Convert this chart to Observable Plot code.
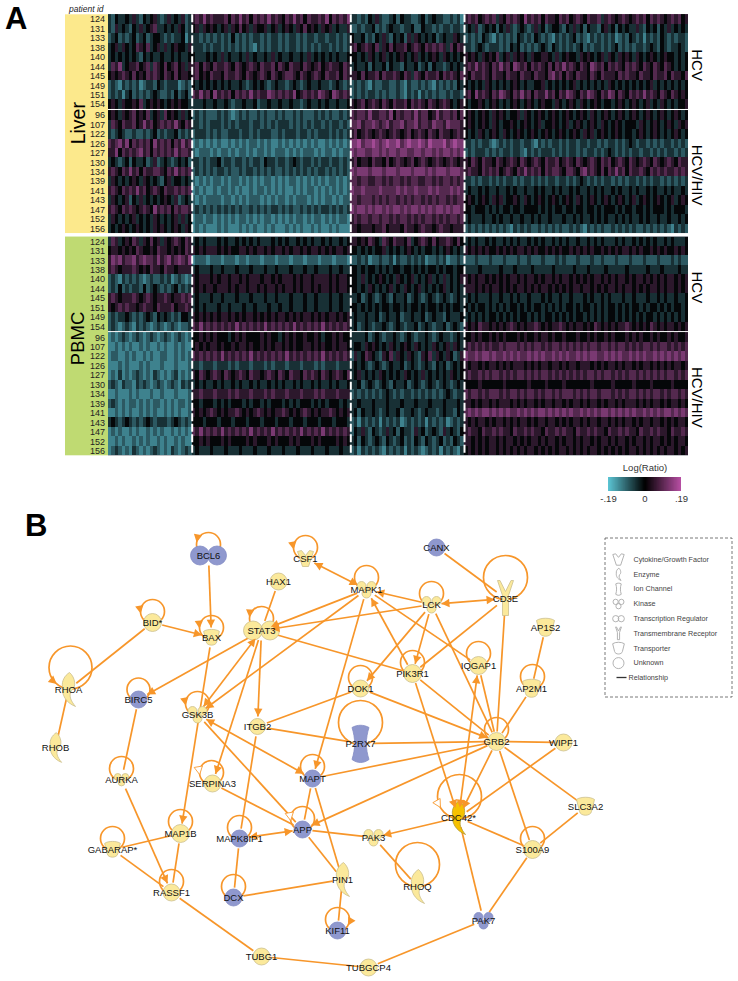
<!DOCTYPE html>
<html><head><meta charset="utf-8">
<script src="https://cdn.jsdelivr.net/npm/d3@7"></script>
<script src="https://cdn.jsdelivr.net/npm/@observablehq/plot@0.6"></script>
<style>
body{margin:0;background:#fff;font-family:"Liberation Sans",Arial,sans-serif}
#page{position:relative;width:738px;height:981px;overflow:hidden}
.panel{position:absolute;font-weight:bold;font-size:31px;line-height:31px;color:#000}
.pid{position:absolute;left:69px;top:4px;font-style:italic;font-size:8.5px;color:#222}
</style></head><body><div id="page"></div>
<script>
// ---- Panel A: patients per group
const idsHCV = [124,131,133,138,140,144,145,149,151,154];
const idsHIV = [96,107,122,126,127,130,134,139,141,143,147,152,156];
const idsPbmcHCV = [124,131,133,138,140,144,145,151,149,154];
// levels 0..8 : 0 = -.19, 4 = 0, 8 = +.19 ; one string per patient, four gene clusters
const liverHCV = [
"324334353243453235343523 56575655564657564656575654657564655657465657 33232435322342433223423433223231 5656456563546565475656465546564565465563565456545656465654565645",
"325343243534563343435423 45354543453546453544534534543546454354534335 22323342323433233422433232332332 3435234342435323432353423443243534243324534243433532434243534343",
"234232342342344323233413 33232323232423232332323323233232332332332323 43342324353243425354343423433543 2323243213232324323243232132323423213232323123243231323243232332",
"345354346546345353454435 33323233232323232132323323233232323233232323 56456546354645564565465656536465 3323432333232434232323432432323234232332323423232332343243233432",
"343434343243433433434334 43334343534334353433435343343343534343434334 44343543453434543453434543543434 5454354546345354543544554353454435454345354354543543454345443434",
"365734556456365464564535 56465465565465456546556465465546545645655465 34334243342433243342342433234343 5657565465756476564656546465756546547656465654656546546546543434",
"454565464546565465464554 56454655465565465456546545665465456546556465 55464556465565465365465564656546 5465565465546554655465546756465465546546555465655465546556465546",
"232132323123324323331232 43434343434334323434323433234323433433234323 23232132233223213223232132323243 4343435434343454343344534343434534343434354343434343453434343434",
"232313423232343223242342 65756475656465657565576565657456565765476565 23232332323223213231323232232332 5647565465765465756465575646576546576546576465465657565465465454",
"454354454634545434545443 33343343343233433423343343343323433434334334 54564565465465564656546545654345 4344543454343454345434544354345435434543443454345434534354343445"];
const liverHIV = [
"454354564546345364543534 23232223232123232232322323223232223232322323 65665755665746566575664575665646 4543454354543445354345434543454345435434543454345434543454345434",
"365465564575645656575465 33232333232323332332323233323232323323233232 66756676567566756675665766576665 4543454354344543454345344543453454345435434543444354345434543545",
"323432232232342323342323 23332323223332332323332232333233232333232323 56456545654565456456546546554565 4343543454354345434543454345434543545345434543443454345434345434",
"656757465656475656465756 12121212112121212212121121212121212112121212 77867787678778678778768777867877 3323233212323233233213232332323323323323233232343233232323323232",
"557465656756465656575665 21222121221212212122121222121212221212212122 76776677676776776677677676776767 2323332323233233213232333232323323233232343232323323323232332323",
"343234243342352343234342 33232334233233232332433233234323323233233232 56455465546456545645654565456545 5465465546545654654565465564565465456546564565465456546545654655",
"565465756465566546575656 23232323323223233232323223232323232332323232 76777677767776777677767677767776 5655465656456546575656465665466546756546465756465565465656556565",
"354343454354343245344343 21212122121221212121221212122121212121221212 66566556656566565665566565665656 3323233232323323233232323323323234323232332323233232323323232323",
"565465657564565465565656 12121121221212112122121212112121221212121212 76676666766667676676667676667676 3433434334334343343343433434334343343434334343343433434334343343",
"354345243534343454352343 21212222122121212221212122121222121212212122 66566656565665656566565656656566 4543454354534454354345434543454354345434543454345345434543453454",
"565465654565475656465665 23232323232323223232323323232232323233232323 76776767767677676776767677676776 4434443434344344344443434344344344344343444343443443434443434443",
"354343453434354343453534 12212212121212212121221212121221212212121221 56566566566565665656566565656656 3433343343433433433434334333433434334343433434343343433433433434",
"343454345434354543454354 12121112121112121211212111212121121211212111 55455545564555465545655456554555 2323232323232132323223232323223232132323223232323223232323213232"];
const pbmcHCV = [
"365345465354645354565465 34343334343343434343334343433434343343433434 55454654365465546345654645565464 3434334343343434334343433434343343343434333434334343434334343334",
"455454546544546554545465 54545554545445545455454554545545455454545545 44343434453434345434344343454343 5454545445454545545454454545445454545445454545545454454545445454",
"576756675676657567567657 12221222122212212221222122212221222122212221 22323122322313223232312232312232 2223222322232223223222322232322232223223222322232223222322232322",
"565455565454655465545555 34333433433343334333433433343334334333433433 44343443434344344343434434344344 3333433333433343333433333433333433343333433333433333433343333433",
"232132323212322323123212 54555454554554545554554545554545545555454554 44353434543435434534345343534345 5454554545454554545545455454554545454554545455454554545454554545",
"232423233242343232342323 54545545554545545545455454554545545455454554 44343543434534354345343434534343 5554545455454545545454554545454554554545455454554545455454554545",
"565455565456545565455656 34333433433343334333433433343334334333433433 33423432343243342343234323432343 3434333433433434334333434334334333434334343334334333433434334334",
"545656554565546555645565 34343334334333433433343343343334334333433433 44343434344344343443434434343443 4343443434343443434344343434344343443434344343434434344343434434",
"232334323234324343232443 54545454554545455454545455454545545454554545 34334334234334233433423433243334 3434343443434343443434344343434344343434344343434343443434343434",
"232123213232123212321223 65756565656575656565756565657565656575656565 34234323343234323342343233423432 5454655454545654545565454556545455454654545455654545465454554545"];
const pbmcHIV = [
"121232123212321232123212 44545454443454544445454434545445445434454544 33334234323343234323343234332343 4454544545454445454454554544544454454544545444545454454544545445",
"112121211212112121121211 45454554544545545445454554545445545454454554 34435454343543454354343543453543 5656565655656665656566565665656565656656656566565656656566565656",
"122112121121211221121212 65656565756565657565656565756565656575656565 25346543254635435432546354354235 7667677676676767667676766767676676767766767676676767667676767676",
"111212111212111211121112 33233323332323332333232333233323332323332333 34343234323433423432343243423434 5455454554545455545454554554545545554545455454554545545454545545",
"121312123212132121231212 54654565465456546554565465465546565465456546 34534343543434354343534343435434 5655656566565656656565665656565656566565665656566565656565665656",
"232132213232123212321323 34343343433434334343343434334343343433434334 33423432343243342343234323432343 4444544444454444445444454444544444445444445444445444454444454444",
"112111212111211211121112 55655565556565556555656555655565556565556555 23232323234323233232323232343233 6566565666565665656656566565666565656656665656566565656656566565",
"232121221212122121212212 44344434343444343443434443434344434343444343 33433343334333433343334333433343 5545455454555454545545455455454554545545455454555454545545455454",
"112121211212121121212112 54545654545565454565454556545456545455654545 34243343234334233432343323433243 6767677676767667676767767676767667676767767676767667676767767676",
"343234323234323332343232 44434443444344434443444344434443444344434443 23132323132323123232313232312323 5454554545545454554545545545454554545545545454554545545545454554",
"121211212112121211212121 65756565756565657565657565656575656575656565 24353243235342433253423432534324 5655465565655465565655465565655465565655465565655465565655465565",
"112121121212112121121211 44545444545444454544454544454544454544445454 34243234324323423243243234232432 5545454554545545454554545545455454554545545455454554545545454554",
"123212132121232121321232 34333433343334333433343334333433343334333433 23132323213232313232123231323213 4545454554545454545545454545545454545545454545455454545454554545"];
const groups = [
  {tissue:"Liver", cond:"HCV", ids:idsHCV, rows:liverHCV},
  {tissue:"Liver", cond:"HCV/HIV", ids:idsHIV, rows:liverHIV},
  {tissue:"PBMC", cond:"HCV", ids:idsPbmcHCV, rows:pbmcHCV},
  {tissue:"PBMC", cond:"HCV/HIV", ids:idsHIV, rows:pbmcHIV}];
const clusterEdges = [0,83.7,242.3,356,580];
const groupGaps = [0.14,0.37,0.14,0];
const teal="#5bc4d3", magenta="#bb50a6";

let pos=0; const rowData=[], cells=[];
groups.forEach((g,gi)=>{
  g.start=pos;
  g.ids.forEach((id,j)=>{
    const row={id,pos};rowData.push(row);
    g.rows[j].split(" ").forEach((seg,b)=>{
      const a=clusterEdges[b],w=clusterEdges[b+1]-a;
      [...seg].forEach((c,i)=>cells.push({x1:a+i/seg.length*w,x2:a+(i+1)/seg.length*w,y1:pos,y2:pos+1,v:(+c-4)/4*.19}));
    });
    pos++;
  });
  g.end=pos; pos+=groupGaps[gi];
});
const total=pos;
const tissues=[
 {name:"Liver",fill:"#fce98c",y1:groups[0].start,y2:groups[1].end,dy:-1,fs:19.5},
 {name:"PBMC",fill:"#bfda72",y1:groups[2].start,y2:groups[3].end,dy:-8,fs:18.5}];

const heat=Plot.plot({
  width:738,height:510,margin:0,
  style:{position:"absolute",left:"0",top:"0",fontFamily:"'Liberation Sans',Arial,sans-serif",background:"transparent"},
  x:{domain:[0,580],range:[108,688],axis:null},
  y:{domain:[0,total],range:[14.3,455.3],axis:null},
  color:{type:"linear",domain:[-.19,0,.19],range:[teal,"#000",magenta],clamp:true},
  marks:[
    Plot.rect(tissues,{x1:()=>-43,x2:()=>0,y1:"y1",y2:"y2",fill:d=>d.fill}),
    Plot.rect(groups,{x1:()=>0,x2:()=>580,y1:"start",y2:"end",fill:()=>"#232c3a"}),
    Plot.rect(cells,{x1:"x1",x2:"x2",y1:"y1",y2:"y2",fill:"v",fillOpacity:.84,shapeRendering:"crispEdges"}),
    Plot.ruleX(clusterEdges.slice(1,4),{y1:0,y2:total,stroke:"#fff",strokeWidth:2,strokeDasharray:"8 2.5"}),
    Plot.text(rowData,{x:()=>0,y:d=>d.pos+.5,text:d=>String(d.id),textAnchor:"end",dx:-3.5,fontSize:9,fill:"#222"}),
    ...tissues.map(t=>Plot.text([t],{x:()=>-30,y:d=>(d.y1+d.y2)/2,text:"name",rotate:-90,fontSize:t.fs,dy:t.dy,fill:"#000"})),
    Plot.text(groups,{x:()=>588,y:d=>(d.start+d.end)/2,text:"cond",rotate:90,fontSize:15,dy:3,fill:"#000"})
  ]});

// legend of panel A
const ramp=d3.range(-.19,.19,.004);
const legendTicks=[-.19,0,.19];
const colorKey=Plot.plot({
  width:120,height:50,marginLeft:23,marginRight:24,marginTop:17,marginBottom:19,
  style:{position:"absolute",left:"585px",top:"460px",fontFamily:"'Liberation Sans',Arial,sans-serif",background:"transparent",fontSize:"9.5px",color:"#333"},
  x:{domain:[-.19,.19],ticks:legendTicks,tickSize:0,tickPadding:4,tickFormat:d=>d==0?"0":(d<0?"-.19":".19"),label:null},
  y:{axis:null,domain:[0,1]},
  color:{type:"linear",domain:[-.19,0,.19],range:[teal,"#000",magenta]},
  marks:[
    Plot.rect(ramp,{x1:d=>d,x2:d=>Math.min(.19,d+.008),y1:()=>0,y2:()=>1,fill:d=>d}),
    Plot.text(["Log(Ratio)"],{frameAnchor:"top",dy:-13,fontSize:9.5,fill:"#333"})
  ]});

// ---- Panel B: network (positions)
const nodes=[
["BCL6",208,555,"double","blue",8],["BID*",152,622,"circle","yellow",9],["BAX",211,637,"cup","yellow",7],
["HAX1",278,581,"circle","yellow",8.5],["STAT3",261,630,"double","yellow",8],["RHOA",68,689,"crescent","yellow",8],
["RHOB",55,747,"crescent","yellow",7],["BIRC5",138,699,"circle","blue",8.5],["GSK3B",197,714,"kinase","yellow",8],
["ITGB2",257,726,"circle","yellow",8],["CSF1",305,558,"cyto","yellow",8],["MAPK1",366,589,"kinase","yellow",8],
["LCK",431,604,"kinase","yellow",8],["CANX",436,547,"circle","blue",8.5],["CD3E",505,598,"recept","yellow",8],
["AP1S2",545,627,"cup","yellow",8],["IQGAP1",478,665,"circle","yellow",9],["AP2M1",531,688,"cup","yellow",8],
["PIK3R1",412,673,"circle","yellow",9],["DOK1",360,688,"circle","yellow",8.5],["P2RX7",360,743,"ion","blue",8],
["GRB2",496,741,"circle","yellow",9],["WIPF1",563,742,"circle","yellow",8.5],["SLC3A2",585,806,"cup","yellow",8],
["CDC42*",458,817,"crescent","gold",8],["S100A9",532,849,"circle","yellow",9],["PAK3",373,837,"kinase","yellow",8],
["RHOQ",417,886,"crescent","yellow",8],["PAK7",483,920,"kinase","blue",8],["TUBGCP4",368,967,"circle","yellow",8.5],
["AURKA",121,779,"kinase","yellow",6],["SERPINA3",212,783,"circle","yellow",8.5],["MAPT",312,778,"circle","blue",8.5],
["MAP1B",180,833,"circle","yellow",9],["MAPK8IP1",239,838,"circle","blue",8.5],["APP",302,829,"circle","blue",8.5],
["GABARAP*",112,849,"cup","yellow",7],["RASSF1",171,892,"circle","yellow",8.5],["DCX",233,897,"circle","blue",8.5],
["PIN1",342,879,"crescent","yellow",8],["KIF11",337,930,"circle","blue",8.5],["TUBG1",261,956,"circle","yellow",8.5]
].map(([name,x,y,shape,tone,r])=>({name,x,y,shape,tone,r}));
const byName=new Map(nodes.map(d=>[d.name,d]));
// from, to, arrowheads (0 none, 1 at "to", 2 both)
const edges=[
["BCL6","BAX",1],["BID*","BAX",1],["BID*","RHOA",0],["RHOA","RHOB",0],["HAX1","STAT3",0],["STAT3","BIRC5",1],
["GSK3B","STAT3",2],["MAPK1","GSK3B",1],["STAT3","ITGB2",1],["STAT3","SERPINA3",1],["BAX","MAP1B",1],["BIRC5","AURKA",0],
["AURKA","RASSF1",1],["GSK3B","APP",0],["MAPT","GSK3B",2],["ITGB2","DOK1",0],["ITGB2","P2RX7",0],["P2RX7","GRB2",0],
["MAPT","GRB2",0],["GRB2","APP",1],["ITGB2","MAPK8IP1",0],["MAPK1","STAT3",1],["LCK","STAT3",1],["MAPK1","MAPT",1],
["CSF1","MAPK1",2],["LCK","MAPK1",1],["LCK","CD3E",2],["CANX","CD3E",0],["CD3E","PIK3R1",0],["LCK","PIK3R1",1],
["PIK3R1","MAPK1",1],["MAPK1","IQGAP1",0],["LCK","DOK1",1],["LCK","GRB2",0],["CD3E","GRB2",0],["AP1S2","AP2M1",0],
["AP2M1","GRB2",0],["IQGAP1","GRB2",0],["IQGAP1","CDC42*",2],["PIK3R1","GRB2",0],["PIK3R1","CDC42*",1],["STAT3","PIK3R1",0],
["DOK1","GRB2",1],["GRB2","CDC42*",1],["GRB2","WIPF1",0],["GRB2","S100A9",0],["GRB2","SLC3A2",0],["WIPF1","CDC42*",0],
["CDC42*","S100A9",0],["CDC42*","PAK3",1],["CDC42*","PAK7",0],["S100A9","PAK7",0],["SLC3A2","S100A9",0],["PAK3","RHOQ",0],
["APP","PAK3",0],["MAPT","APP",0],["MAPT","PIN1",0],["APP","PIN1",0],["SERPINA3","APP",0],["MAPK8IP1","APP",2],
["GABARAP*","MAP1B",0],["GABARAP*","RASSF1",0],["MAP1B","RASSF1",0],["MAPK8IP1","DCX",0],["DCX","PIN1",0],["PIN1","KIF11",0],
["RASSF1","TUBG1",0],["TUBG1","TUBGCP4",0],["TUBGCP4","PAK7",0]];
// self-loops: centre x, centre y, radius, head angle (null none), head kind
const loops=[
[208,544,12,190,"s"],[152,611,12,170,"s"],[211,627,12,175,"s"],[261,618,12,185,"s"],[70,667,21.5,130,"s"],[138,689,11.5,null],
[197,703,12,170,"s"],[305,547,12,170,"s"],[366,577,12,null],[431,593,12,null],[505,577,22,null],[478,653,12,null],
[532,676,12,null],[412,662,12,null],[360,677,12,null],[360,722,22,null],[496,729,12,null],[459,796,22,150,"o"],
[532,838,12,null],[417,864,22,null],[121,768,12,null],[211,772,12,170,"o"],[312,766,12,null],[180,821,12,null],
[239,827,12,null],[302,818,12,170,"o"],[112,838,12,null],[171,881,12,null],[233,886,12,null],[337,919,12,30,"c"]
].map(([cx,cy,r,a,k])=>({cx,cy,r,a,k}));
const legendNames=["Cytokine/Growth Factor","Enzyme","Ion Channel","Kinase","Transcription Regulator","Transmembrane Receptor","Transporter","Unknown"];
const legendShapes=["cyto","crescent","ion","kinase","double","recept","cup","circle"];
const legendScale=[5.7,2.9,2.6,4.6,2.6,2.9,5.2,5.5];

const orange="#f7962a";
const toneFill={yellow:"#fbe99b",blue:"#8f98ce",gold:"#f6c100"};
const toneStroke={yellow:"#cbbf8e",blue:"#838cc4",gold:"#b49a30"};
const scaled=fn=>({draw(c,size){const s=Math.sqrt(size/Math.PI)/8;fn(c,s)}});
const symbols={
 circle:"circle",
 double:scaled((c,s)=>{for(const x of[-8.5,8.5]){c.moveTo((x+9.5)*s,0);c.arc(x*s,0,9.5*s,0,2*Math.PI)}c.closePath()}),
 kinase:scaled((c,s)=>{for(const[x,y,r]of[[-5,-3.5,4.5],[5,-3.5,4.5],[0,4,4.5]]){c.moveTo((x+r)*s,y*s);c.arc(x*s,y*s,r*s,0,2*Math.PI)}c.closePath()}),
 crescent:scaled((c,s)=>{c.moveTo(1*s,-17*s);c.bezierCurveTo(-4*s,-14*s,-7*s,-8*s,-6*s,-3*s);c.bezierCurveTo(-7*s,5*s,-3*s,13*s,7*s,17*s);c.bezierCurveTo(2*s,11*s,0,6*s,3*s,1*s);c.bezierCurveTo(8*s,-2*s,7*s,-12*s,1*s,-17*s);c.closePath()}),
 cup:scaled((c,s)=>{c.moveTo(-9*s,-7*s);c.bezierCurveTo(-5*s,-10*s,5*s,-10*s,9*s,-7*s);c.lineTo(6*s,5*s);c.bezierCurveTo(5*s,10*s,-5*s,10*s,-6*s,5*s);c.closePath()}),
 ion:scaled((c,s)=>{c.moveTo(-8.5*s,-16*s);c.bezierCurveTo(-3*s,-19*s,3*s,-19*s,8.5*s,-16*s);c.bezierCurveTo(5*s,-5*s,5*s,5*s,8.5*s,16*s);c.bezierCurveTo(3*s,20*s,-3*s,20*s,-8.5*s,16*s);c.bezierCurveTo(-5*s,5*s,-5*s,-5*s,-8.5*s,-16*s);c.closePath()}),
 recept:scaled((c,s)=>{c.moveTo(-8*s,-18*s);c.lineTo(-5.5*s,-18*s);c.lineTo(0,-7*s);c.lineTo(5.5*s,-18*s);c.lineTo(8*s,-18*s);c.lineTo(3*s,-3*s);c.lineTo(3*s,17*s);c.lineTo(-3*s,17*s);c.lineTo(-3*s,-3*s);c.closePath()}),
 cyto:scaled((c,s)=>{c.moveTo(-8*s,-7*s);c.lineTo(-4*s,-8*s);c.lineTo(0,-3*s);c.lineTo(4*s,-8*s);c.lineTo(8*s,-7*s);c.lineTo(3*s,8*s);c.lineTo(-3*s,8*s);c.closePath()})
};
const head={draw(c,size){const s=Math.sqrt(size/Math.PI);c.moveTo(0,0);c.lineTo(-s,1.9*s);c.lineTo(s,1.9*s);c.closePath()}};

const gapOf=n=>n.shape==="ion"?13:n.shape==="recept"?11:10;
const links=[],heads=[];
function addHead(x,y,dx,dy,open){heads.push({x,y,rot:Math.atan2(dy,dx)*180/Math.PI+90,open})}
for(const[f,t,kind]of edges){
  const a=byName.get(f),b=byName.get(t),L=Math.hypot(b.x-a.x,b.y-a.y),ux=(b.x-a.x)/L,uy=(b.y-a.y)/L;
  const ga=gapOf(a),gb=gapOf(b);
  links.push({x1:a.x+ux*ga,y1:a.y+uy*ga,x2:b.x-ux*gb,y2:b.y-uy*gb});
  if(kind>=1)addHead(b.x-ux*gb,b.y-uy*gb,ux,uy,false);
  if(kind===2)addHead(a.x+ux*ga,a.y+uy*ga,-ux,-uy,false);
}
for(const l of loops){ if(l.a==null)continue;
  const th=l.a*Math.PI/180,x=l.cx+l.r*Math.cos(th),y=l.cy+l.r*Math.sin(th),d=l.k==="c"?-1:1;
  addHead(x,y,d*Math.sin(th),-d*Math.cos(th),l.k==="o");
}
const shapeMarks=[...new Set(nodes.map(d=>d.shape))].map(k=>Plot.dot(nodes.filter(d=>d.shape===k),{
  x:"x",y:"y",r:"r",symbol:symbols[k],fill:d=>toneFill[d.tone],stroke:d=>toneStroke[d.tone],strokeWidth:.8}));
const legendRows=legendNames.map((name,i)=>({name,shape:legendShapes[i],r:legendScale[i],x:618,y:559+i*14.8}));
const net=Plot.plot({
  width:738,height:471,margin:0,
  style:{position:"absolute",left:"0",top:"510px",fontFamily:"'Liberation Sans',Arial,sans-serif",background:"transparent"},
  x:{domain:[0,738],range:[0,738],axis:null},
  y:{domain:[510,981],range:[0,471],axis:null},
  r:{type:"identity"},
  marks:[
    Plot.dot(loops,{x:"cx",y:"cy",r:"r",stroke:orange,strokeWidth:1.7,fill:"none"}),
    Plot.link(links,{x1:"x1",y1:"y1",x2:"x2",y2:"y2",stroke:orange,strokeWidth:1.7}),
    ...shapeMarks,
    Plot.dot(heads.filter(d=>!d.open),{x:"x",y:"y",r:()=>4.2,rotate:"rot",symbol:head,fill:orange,stroke:"none"}),
    Plot.dot(heads.filter(d=>d.open),{x:"x",y:"y",r:()=>4.2,rotate:"rot",symbol:head,fill:"#fff",stroke:orange,strokeWidth:.8}),
    Plot.text(nodes,{x:"x",y:"y",text:"name",fontSize:9.5,fill:"#111"}),
    Plot.rect([{x1:605,x2:732,y1:538,y2:697}],{x1:"x1",x2:"x2",y1:"y1",y2:"y2",fill:"none",stroke:"#555",strokeWidth:.8,strokeDasharray:"3 2"}),
    ...legendRows.map(d=>Plot.dot([d],{x:"x",y:"y",r:"r",symbol:symbols[d.shape],fill:"none",stroke:"#aaa",strokeWidth:.9})),
    Plot.text(legendRows,{x:()=>633,y:"y",text:"name",textAnchor:"start",fontSize:7.2,fill:"#444"}),
    Plot.link([{x1:616,x2:626,y:677}],{x1:"x1",x2:"x2",y1:"y",y2:"y",stroke:"#333",strokeWidth:1.3}),
    Plot.text(["Relationship"],{x:()=>628,y:()=>677,textAnchor:"start",fontSize:7.2,fill:"#444"})
  ]});

const page=document.getElementById("page");
page.append(heat,colorKey,net);
for(const[t,l,p]of[["A",5,3],["B",25,510]]){const e=document.createElement("div");e.className="panel";e.textContent=t;e.style.left=l+"px";e.style.top=p+"px";page.append(e)}
const pid=document.createElement("div");pid.className="pid";pid.textContent="patient id";page.append(pid);
</script></body></html>
